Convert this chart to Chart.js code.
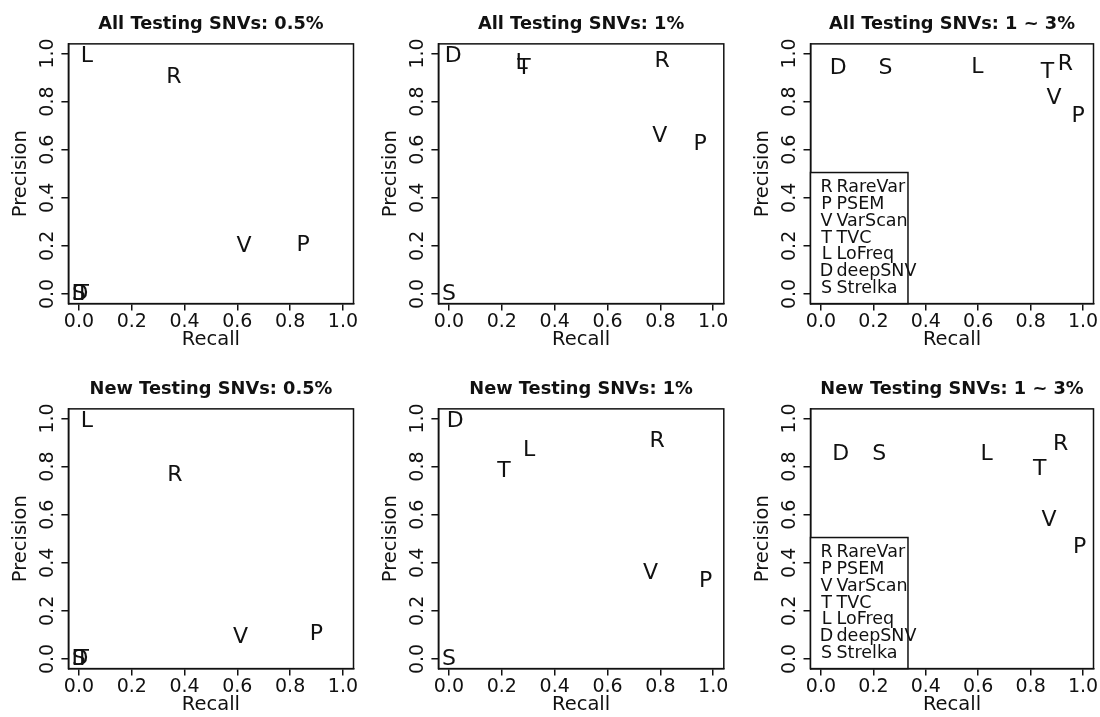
<!DOCTYPE html>
<html>
<head>
<meta charset="utf-8">
<script src="https://cdn.jsdelivr.net/npm/chart.js@4"></script>
<style>
  html, body { margin: 0; padding: 0; background: #fff; overflow: hidden; }
  body { width: 1100px; height: 717px; position: relative; }
  canvas { position: absolute; }
</style>
</head>
<body>
<canvas id="c0"></canvas>
<canvas id="c1"></canvas>
<canvas id="c2"></canvas>
<canvas id="c3"></canvas>
<canvas id="c4"></canvas>
<canvas id="c5"></canvas>
<script>
// tools, in legend order
const codes = ['R', 'P', 'V', 'T', 'L', 'D', 'S']
const tools = ['RareVar', 'PSEM', 'VarScan', 'TVC', 'LoFreq', 'deepSNV', 'Strelka']

const titles = [
    'All Testing SNVs: 0.5%', 'All Testing SNVs: 1%', 'All Testing SNVs: 1 ~ 3%',
    'New Testing SNVs: 0.5%', 'New Testing SNVs: 1%', 'New Testing SNVs: 1 ~ 3%'
]
const axisTicks = [0, 0.2, 0.4, 0.6, 0.8, 1.0]

// recall / precision per tool (R, P, V, T, L, D, S)
const allRecall05    = [0.36, 0.849, 0.625, 0.012, 0.03, 0.004, 0]
const allPrecision05 = [0.90, 0.204, 0.20, 0, 0.99, 0, 0]
const allRecall1     = [0.807, 0.95, 0.798, 0.284, 0.275, 0.016, 0]
const allPrecision1  = [0.968, 0.623, 0.654, 0.938, 0.958, 0.989, 0]
const allRecall13    = [0.933, 0.981, 0.889, 0.864, 0.597, 0.066, 0.246]
const allPrecision13 = [0.954, 0.737, 0.813, 0.92, 0.942, 0.938, 0.938]
const newRecall05    = [0.363, 0.899, 0.612, 0.012, 0.03, 0.004, 0]
const newPrecision05 = [0.765, 0.102, 0.089, 0, 0.989, 0, 0]
const newRecall1     = [0.788, 0.971, 0.763, 0.208, 0.303, 0.024, 0]
const newPrecision1  = [0.906, 0.321, 0.356, 0.78, 0.867, 0.989, 0]
const newRecall13    = [0.915, 0.987, 0.87, 0.835, 0.632, 0.075, 0.222]
const newPrecision13 = [0.892, 0.463, 0.578, 0.789, 0.85, 0.85, 0.85]

const panels = [
    [allRecall05, allPrecision05, false],
    [allRecall1, allPrecision1, false],
    [allRecall13, allPrecision13, true],
    [newRecall05, newPrecision05, false],
    [newRecall1, newPrecision1, false],
    [newRecall13, newPrecision13, true]
]

// canvas placement: left, width, y-axis width
const cols = [[0, 360, 68.4], [370, 360, 68.4], [742, 358, 68.5]]
const rows = [0, 365]
const CANVAS_H = 352
const INK = '#111'

Chart.defaults.font.family = "'DejaVu Sans', sans-serif"
Chart.defaults.color = INK

// box around the plot region plus the letters at each point
const letterPlugin = {
    id: 'letters',
    afterDatasetsDraw(chart) {
        const ctx = chart.ctx
        const a = chart.chartArea
        ctx.save()
        ctx.strokeStyle = '#111'
        ctx.lineWidth = 1.5
        ctx.strokeRect(a.left, a.top, a.right - a.left, a.bottom - a.top)
        ctx.fillStyle = INK
        ctx.font = "22px 'DejaVu Sans'"
        ctx.textAlign = 'center'
        ctx.textBaseline = 'middle'
        chart.getDatasetMeta(0).data.forEach((pt, i) => {
            ctx.fillText(codes[i], pt.x, pt.y)
        })
        ctx.restore()
    }
}

// R style legend in the bottom left corner
const boxLegend = {
    id: 'boxLegend',
    afterDraw(chart, args, opts) {
        if (!opts.show) return
        const ctx = chart.ctx
        const xs = chart.scales.x, ys = chart.scales.y
        const left = chart.chartArea.left
        const bottom = chart.chartArea.bottom
        const right = xs.getPixelForValue(0.332)
        const top = ys.getPixelForValue(0.505)
        const h = bottom - top
        const step = 16.8
        const start = top + (h - step * (codes.length - 1)) / 2
        ctx.save()
        ctx.fillStyle = '#fff'
        ctx.fillRect(left, top, right - left, h)
        ctx.strokeStyle = '#111'
        ctx.lineWidth = 1.5
        ctx.strokeRect(left, top, right - left, h)
        ctx.fillStyle = INK
        ctx.font = "17.5px 'DejaVu Sans'"
        ctx.textBaseline = 'middle'
        codes.forEach((c, i) => {
            const y = start + i * step
            ctx.textAlign = 'center'
            ctx.fillText(c, left + 16, y)
            ctx.textAlign = 'left'
            ctx.fillText(tools[i], left + 26, y)
        })
        ctx.restore()
    }
}

function axis(title, isY, width) {
    return {
        type: 'linear',
        min: -0.04,
        max: 1.04,
        afterBuildTicks: s => { s.ticks = axisTicks.map(v => ({value: v})) },
        afterFit: s => { if (isY) s.width = width; else s.height = 48.4 },
        ticks: {
            autoSkip: false,
            color: INK,
            font: {size: 19},
            padding: isY ? -2 : 0.5,
            minRotation: isY ? 90 : 0,
            maxRotation: isY ? 90 : 0,
            crossAlign: isY ? 'center' : 'near',
            callback: v => v.toFixed(1)
        },
        grid: {
            display: true,
            drawOnChartArea: false,
            drawTicks: true,
            tickLength: 7,
            color: '#111',
            lineWidth: 1.5
        },
        border: {display: true, color: '#111', width: 1.5},
        title: {
            display: true,
            text: title,
            color: INK,
            font: {size: 19.5, lineHeight: 1.2},
            padding: isY ? {top: 9.2, bottom: 0} : {top: 0, bottom: 0}
        }
    }
}

panels.forEach((p, k) => {
    const col = cols[k % 3]
    const canvas = document.getElementById('c' + k)
    canvas.width = col[1]
    canvas.height = CANVAS_H
    canvas.style.left = col[0] + 'px'
    canvas.style.top = rows[Math.floor(k / 3)] + 'px'
    const recall = p[0], precision = p[1]
    const points = recall.map((r, i) => ({x: r, y: precision[i]}))
    const boxW = [285.1, 285.4, 283][k % 3]

    new Chart(canvas.getContext('2d'), {
        type: 'scatter',
        data: {
            datasets: [{
                label: titles[k],
                data: points,
                pointRadius: 0,
                pointHoverRadius: 0
            }]
        },
        options: {
            responsive: false,
            animation: false,
            events: [],
            devicePixelRatio: 1,
            layout: {padding: {left: 0, top: 0, bottom: 0, right: col[1] - col[2] - boxW}},
            scales: {
                x: axis('Recall', false),
                y: axis('Precision', true, col[2])
            },
            plugins: {
                legend: {display: false},
                tooltip: {enabled: false},
                title: {
                    display: true,
                    fullSize: false,
                    text: titles[k],
                    color: INK,
                    font: {size: 17.8, weight: 'bold', lineHeight: 1.2},
                    padding: {top: 14, bottom: 8.5}
                },
                boxLegend: {show: p[2]}
            }
        },
        plugins: [letterPlugin, boxLegend]
    })
})
</script>
</body>
</html>
